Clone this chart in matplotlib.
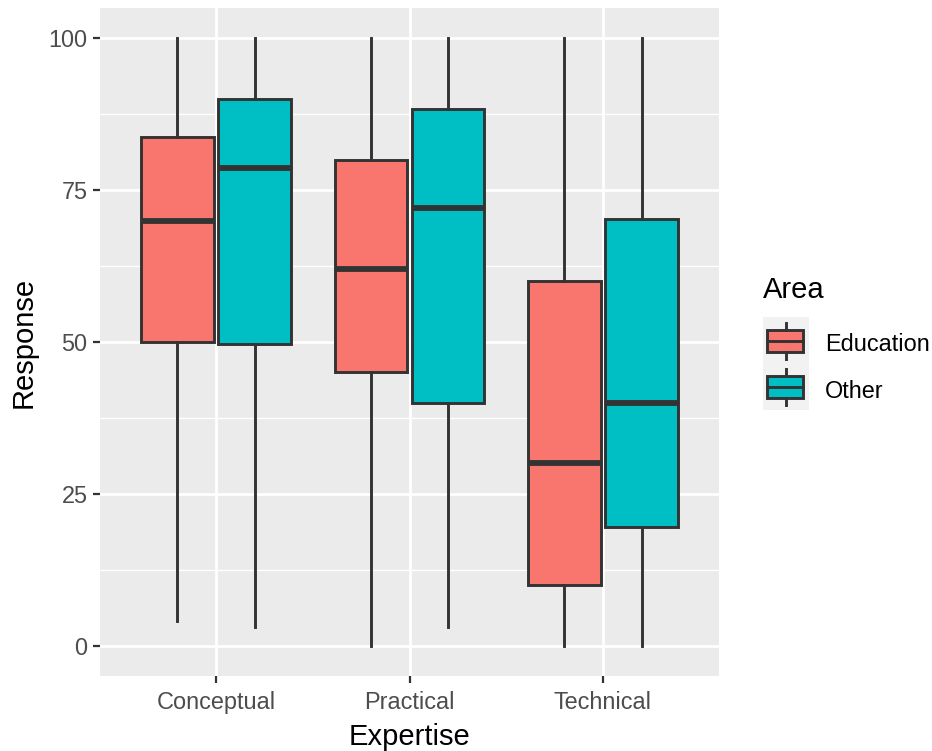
import matplotlib
matplotlib.use("Agg")
import matplotlib.pyplot as plt
from matplotlib.patches import Rectangle
import numpy as np

plt.rcParams['font.family'] = ['Liberation Sans', 'DejaVu Sans']

categories = ["Conceptual", "Practical", "Technical"]
groups = ["Education", "Other"]
colors = ["#F8766D", "#00BFC4"]

# per group: values per category
whislo = {"Education": [4, 0, 0], "Other": [3, 3, 0]}
q1 = {"Education": [50, 45, 10], "Other": [49.7, 40, 19.5]}
med = {"Education": [70, 62, 30], "Other": [78.6, 72, 40]}
q3 = {"Education": [83.7, 80, 60], "Other": [90, 88.3, 70.2]}
whishi = {"Education": [100, 100, 100], "Other": [100, 100, 100]}

yticks = [0, 25, 50, 75, 100]

W, H = 932, 751
fig = plt.figure(figsize=(W / 100, H / 100), dpi=100)
ax = fig.add_axes([100 / W, (H - 676) / H, 619 / W, 668 / H])
ax.set_facecolor("#EBEBEB")

edge = "#333333"
lw = 2.1
offsets = [-0.2, 0.2]
for gi, g in enumerate(groups):
    stats = []
    for ci in range(len(categories)):
        stats.append(dict(med=med[g][ci], q1=q1[g][ci], q3=q3[g][ci],
                          whislo=whislo[g][ci], whishi=whishi[g][ci], fliers=[]))
    pos = np.arange(1, len(categories) + 1) + offsets[gi]
    ax.bxp(stats, positions=pos, widths=0.375, patch_artist=True, showcaps=False,
           showfliers=False, manage_ticks=False,
           boxprops=dict(facecolor=colors[gi], edgecolor=edge, linewidth=lw),
           medianprops=dict(color=edge, linewidth=lw * 2, solid_capstyle='butt'),
           whiskerprops=dict(color=edge, linewidth=lw), zorder=3)

ax.set_xlim(0.4, 3.6)
ax.set_ylim(-5, 105)
ax.set_xticks([1, 2, 3])
ax.set_xticklabels(categories)
ax.set_yticks(yticks)
ax.set_yticks([12.5, 37.5, 62.5, 87.5], minor=True)
ax.set_xticks([], minor=True)
ax.grid(which="major", color="white", linewidth=2.0, zorder=0)
ax.grid(which="minor", axis="y", color="white", linewidth=1.0, zorder=0)
ax.set_axisbelow(True)
for s in ax.spines.values():
    s.set_visible(False)
ax.tick_params(which="major", length=5, width=1.6, color="#333333",
               labelcolor="#4D4D4D", labelsize=16.9, pad=4)
ax.tick_params(axis="x", which="major", pad=6)
ax.tick_params(which="minor", length=0)
ax.set_xlabel("Expertise", fontsize=21, color="black", labelpad=6)
ax.set_ylabel("Response", fontsize=21, color="black", labelpad=8)

# legend (drawn manually in ggplot style)
fig.text(763 / W, 1 - 290 / H, "Area", fontsize=21, va="center", ha="left")
lax = fig.add_axes([763 / W, (H - 410) / H, 46 / W, 93 / H])
lax.set_xlim(763, 809)
lax.set_ylim(410, 317)
lax.axis("off")
lax.add_patch(Rectangle((763, 317), 46, 93, facecolor="#F2F2F2", edgecolor="none"))
for gi, g in enumerate(groups):
    yc = 340.5 + gi * 46.5
    lax.plot([786, 786], [yc - 18, yc - 11], color=edge, lw=lw)
    lax.plot([786, 786], [yc + 11, yc + 18], color=edge, lw=lw)
    lax.add_patch(Rectangle((767, yc - 11), 36, 22, facecolor=colors[gi],
                            edgecolor=edge, linewidth=lw))
    lax.plot([767, 803], [yc, yc], color=edge, lw=lw)
    fig.text(825 / W, 1 - (yc + 1.5) / H, g, fontsize=16.9, va="center_baseline", ha="left")

fig.savefig("out.png", dpi=100)
